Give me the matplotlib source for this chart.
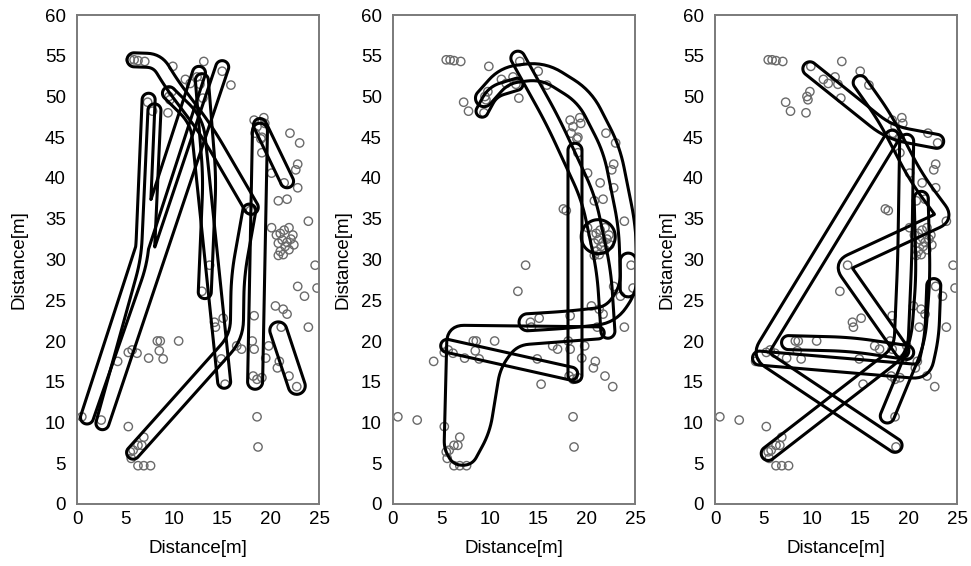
import numpy as np
import matplotlib
matplotlib.use("Agg")
import matplotlib.pyplot as plt
from matplotlib.path import Path

# ---------------- data ----------------
pts_x = [5.5, 5.9, 6.3, 7.0, 9.9, 13.1, 11.2, 11.7, 12.4, 12.7, 15.0, 15.9, 13.0, 7.3, 7.8, 9.5, 9.8, 9.6, 9.4,
         18.3, 18.6, 19.3, 19.4, 18.4, 19.1, 19.0, 22.0, 23.0, 19.1,
         22.8, 22.6, 20.1, 21.4, 22.8, 20.8, 21.7, 17.6, 17.9, 23.9,
         21.0, 21.4, 21.9, 22.3, 21.2, 21.7, 22.1, 20.8, 21.5, 21.9, 21.0, 22.4, 21.3, 20.6,
         20.1, 20.8, 24.6, 13.7, 22.8, 24.8, 23.5, 12.9,
         20.5, 21.3, 21.7, 21.1, 23.9, 18.3, 15.1, 14.3, 14.2, 10.5, 8.3, 8.6, 8.5, 8.9,
         5.3, 5.7, 6.2, 4.2, 7.4, 16.5, 17.0, 18.1, 18.3, 19.8, 19.5, 20.9, 20.7, 21.9,
         14.9, 18.2, 18.6, 19.1, 15.3, 22.7, 0.5, 2.5, 18.6, 5.3, 18.7,
         5.5, 5.8, 6.3, 6.9, 6.7, 5.6, 6.3, 6.9, 7.6]
pts_y = [54.5, 54.5, 54.4, 54.3, 53.7, 54.3, 52.1, 51.6, 52.4, 51.5, 53.1, 51.4, 49.8, 49.3, 48.2, 50.0, 50.6, 49.6, 48.0,
         47.1, 46.3, 47.4, 46.7, 45.5, 45.0, 44.8, 45.5, 44.3, 43.1,
         41.7, 41.0, 40.6, 39.4, 38.8, 37.2, 37.4, 36.2, 36.0, 34.7,
         33.2, 33.6, 33.9, 33.0, 32.4, 32.1, 32.5, 32.0, 31.6, 31.2, 31.0, 31.8, 30.6, 33.0,
         33.9, 30.5, 29.3, 29.3, 26.7, 26.5, 25.5, 26.1,
         24.3, 23.9, 23.3, 21.7, 21.7, 23.1, 22.8, 21.7, 22.3, 20.0, 20.0, 20.0, 18.8, 17.8,
         18.6, 18.9, 18.5, 17.5, 17.9, 19.4, 19.0, 20.0, 19.0, 19.4, 17.9, 17.5, 16.7, 15.7,
         17.8, 15.7, 15.3, 15.5, 14.7, 14.4, 10.7, 10.3, 10.7, 9.5, 7.0,
         6.4, 6.6, 7.2, 8.2, 7.2, 5.6, 4.7, 4.7, 4.7]

x_ticks = [0, 5, 10, 15, 20, 25]
y_ticks = [0, 5, 10, 15, 20, 25, 30, 35, 40, 45, 50, 55, 60]
axis_label = "Distance[m]"

# walking routes (waypoints) enclosed by each outline, per panel
left_routes = [
    [(5.9, 54.5), (8.3, 54.4), (9.8, 51.5), (13.4, 45.8), (18.0, 36.4)],
    [(9.5, 50.4), (12.4, 47.0), (15.2, 15.0)],
    [(7.4, 49.6), (6.7, 30.0), (1.0, 10.5), (12.6, 52.9)],
    [(8.0, 48.3), (7.3, 30.0), (2.6, 9.8), (15.0, 53.6)],
    [(12.9, 52.0), (13.7, 40.0), (13.2, 26.0)],
    [(18.4, 15.0), (18.9, 45.8)],
    [(18.9, 46.5), (21.7, 39.6)],
    [(20.8, 21.3), (22.7, 14.5)],
    [(5.8, 6.3), (16.5, 20.5), (16.6, 28.0), (17.8, 36.0)],
]
middle_routes = [
    [(9.4, 49.8), (11.5, 52.6), (15.5, 53.2), (19.8, 50.0), (22.6, 43.5), (24.2, 34.0),
     (24.4, 26.5), (22.5, 23.2), (18.0, 22.6), (13.9, 22.3)],
    [(9.2, 48.2), (10.3, 50.6), (12.8, 51.5)],
    [(12.9, 54.7), (16.5, 47.0), (20.2, 37.5), (21.8, 28.5), (22.2, 21.2)],
    [(21.2, 32.8)],
    [(18.8, 43.4), (18.8, 15.8)],
    [(5.6, 19.4), (18.4, 16.0)],
    [(6.2, 21.2), (21.3, 21.0), (12.5, 20.2), (10.5, 17.0), (9.4, 9.0), (7.8, 5.5), (6.6, 5.5), (5.9, 7.0)],
    [(24.3, 29.8), (24.3, 26.4)],
]
right_routes = [
    [(9.8, 53.4), (18.0, 45.6), (22.9, 44.5)],
    [(18.3, 45.0), (4.6, 18.3), (18.6, 7.2)],
    [(5.5, 6.2), (19.2, 18.8), (19.6, 30.0), (19.8, 44.5)],
    [(15.0, 51.7), (17.5, 47.5), (20.8, 40.0), (23.8, 35.2), (13.1, 29.3), (19.3, 18.8)],
    [(7.6, 19.8), (14.0, 19.6), (19.8, 18.6)],
    [(4.6, 17.9), (21.6, 16.2), (22.4, 20.5), (22.6, 26.8)],
    [(17.8, 10.8), (21.0, 20.0), (21.5, 28.0), (21.3, 37.5)],
]

# outline half-widths (px) and closed-area flags (style)
left_radius = [7, 6.5, 6.5, 6.5, 6.5, 7.5, 6.5, 8.5, 6.5]
middle_radius = [8.5, 6, 7, 17, 7, 6.5, 6, 8]
middle_filled = [False, False, False, False, False, False, True, False]
right_radius = [7, 7, 7, 7, 7, 7, 7]

# ---------------- layout ----------------
W, H, DPI = 971, 566, 100
fig = plt.figure(figsize=(W / DPI, H / DPI), dpi=DPI)
plt.rcParams["font.family"] = ["Liberation Sans", "DejaVu Sans"]

ax_w, ax_h = 242 / W, 489 / H
bottom = 1 - 504 / H
lefts = [77 / W, 393 / W, 715 / W]
ylabel_x = [-0.205, -0.17, -0.165]

SX = ax_w * W / 25.0   # px per metre (x)
SY = ax_h * H / 60.0   # px per metre (y)
SCALE = np.array([SX, SY])

gx = np.linspace(-1.5, 26.5, 620)
gy = np.linspace(-2.0, 62.0, 1350)
GX, GY = np.meshgrid(gx, gy)
gxp, gyp = gx * SX, gy * SY
PX, PY = GX * SX, GY * SY


def fillet(P, closed=False, cmax=22.0):
    """Round interior corners of a pixel-space polyline with short quadratic arcs."""
    P = np.asarray(P, float)
    n = len(P)
    out = []
    for k in range(n):
        if not closed and (k == 0 or k == n - 1):
            out.append(P[k])
            continue
        A, V, B = P[k - 1], P[k], P[(k + 1) % n]
        u, w = A - V, B - V
        lu, lw = np.hypot(*u), np.hypot(*w)
        if lu == 0 or lw == 0:
            out.append(V)
            continue
        u, w = u / lu, w / lw
        theta = np.arccos(np.clip(-(u @ w), -1, 1))   # turning angle
        c = max(2.0, cmax * (1 - theta / np.pi))
        c = min(c, 0.45 * lu, 0.45 * lw)
        P1, P2 = V + u * c, V + w * c
        for t in np.linspace(0, 1, 9):
            out.append((1 - t) ** 2 * P1 + 2 * (1 - t) * t * V + t ** 2 * P2)
    return np.array(out)


def loop_field(route, radius_px, filled=False):
    pts = np.asarray(route, float)
    P = pts * SCALE
    if len(P) > 2:
        P = fillet(P, closed=filled)
    d = np.full(GX.shape, 1e3)
    if len(P) == 1:
        d = np.hypot(PX - P[0, 0], PY - P[0, 1])
    else:
        segs = list(zip(P[:-1], P[1:]))
        if filled:
            segs.append((P[-1], P[0]))
        m = radius_px + 6
        for a, b in segs:
            i0 = max(np.searchsorted(gxp, min(a[0], b[0]) - m) - 1, 0)
            i1 = np.searchsorted(gxp, max(a[0], b[0]) + m) + 1
            j0 = max(np.searchsorted(gyp, min(a[1], b[1]) - m) - 1, 0)
            j1 = np.searchsorted(gyp, max(a[1], b[1]) + m) + 1
            sx, sy = PX[j0:j1, i0:i1], PY[j0:j1, i0:i1]
            ab = b - a
            L2 = ab @ ab
            if L2 == 0:
                dd = np.hypot(sx - a[0], sy - a[1])
            else:
                t = np.clip(((sx - a[0]) * ab[0] + (sy - a[1]) * ab[1]) / L2, 0, 1)
                dd = np.hypot(sx - a[0] - t * ab[0], sy - a[1] - t * ab[1])
            d[j0:j1, i0:i1] = np.minimum(d[j0:j1, i0:i1], dd)
        if filled:
            inside = Path(P / SCALE).contains_points(np.c_[GX.ravel(), GY.ravel()]).reshape(GX.shape)
            d[inside] = 0
    return d - radius_px


panels = [
    (left_routes, left_radius, [False] * len(left_routes)),
    (middle_routes, middle_radius, middle_filled),
    (right_routes, right_radius, [False] * len(right_routes)),
]

for i, (routes, radii, filled) in enumerate(panels):
    ax = fig.add_axes([lefts[i], bottom, ax_w, ax_h])
    ax.scatter(pts_x, pts_y, s=36, facecolors="none", edgecolors="#6a6a6a", linewidths=1.0, zorder=2)
    for route, r, f in zip(routes, radii, filled):
        ax.contour(GX, GY, loop_field(route, r, f), levels=[0], colors="black",
                   linewidths=2.2, zorder=3)
    ax.set_xlim(0, 25)
    ax.set_ylim(0, 60)
    ax.set_xticks(x_ticks)
    ax.set_yticks(y_ticks)
    ax.tick_params(length=0, labelsize=13.5, colors="black")
    ax.tick_params(axis="x", pad=5)
    ax.tick_params(axis="y", pad=8)
    for s in ax.spines.values():
        s.set_color("#7a7a7a")
        s.set_linewidth(1.4)
    ax.set_xlabel(axis_label, fontsize=13.5, labelpad=9)
    ax.set_ylabel(axis_label, fontsize=13.5)
    ax.yaxis.set_label_coords(ylabel_x[i], 0.5)

fig.savefig("out.png", dpi=DPI)
